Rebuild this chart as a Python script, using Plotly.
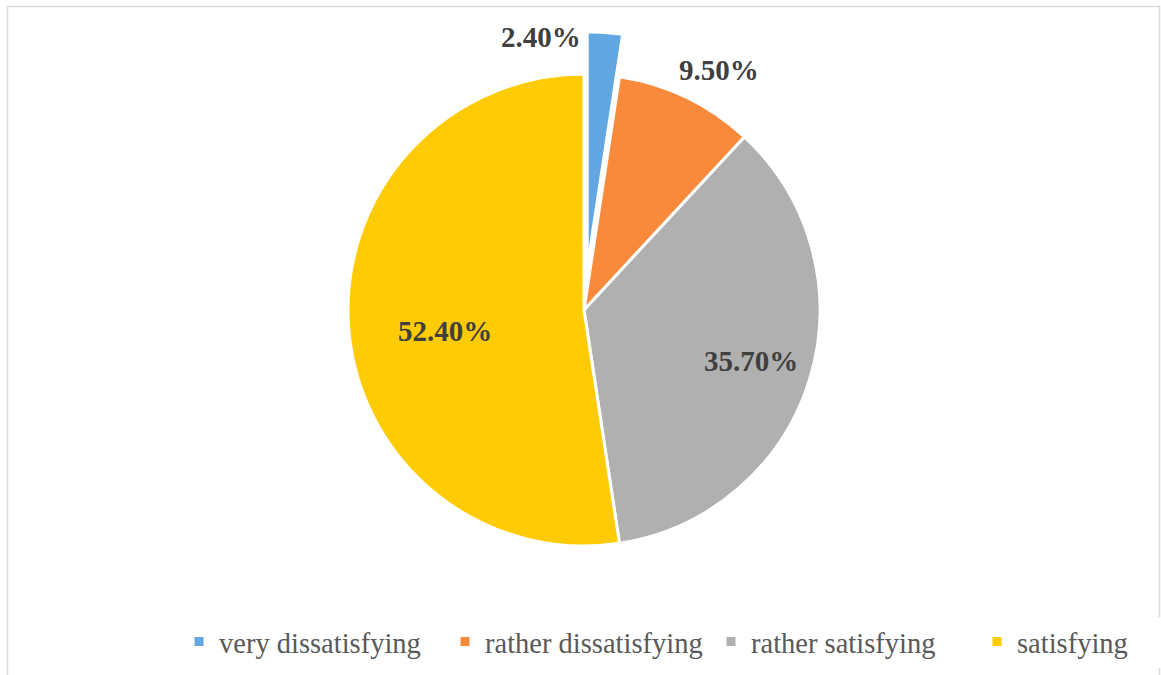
import math
import plotly.graph_objects as go

# Survey satisfaction shares (percent)
categories = ["very dissatisfying", "rather dissatisfying", "rather satisfying", "satisfying"]
shares = [2.4, 9.5, 35.7, 52.4]
slice_colors = ["#62A6E2", "#F98A3B", "#B0B0B0", "#FECB05"]
pulls = [0.18, 0, 0, 0]

# Label placement: radial distance (in radii) from the slice's own centre,
# horizontal anchor and a small pixel nudge (x right, y up)
label_radius = [1.0, 1.16, 0.74, 0.60]
label_xanchor = ["right", "center", "center", "center"]
label_shift = [(-22, -5), (16, -7), (0, 0), (2, -10)]

W, H = 1161, 675
CX, CY = 584, 310          # pie centre in pixels
R = 236                    # pie radius in pixels
max_pull = max(pulls)
box = 2 * R * (1 + max_pull)

fig = go.Figure(
    go.Pie(
        labels=categories,
        values=shares,
        textinfo="none",
        marker=dict(colors=slice_colors, line=dict(color="white", width=3)),
        pull=pulls,
        sort=False,
        direction="clockwise",
        rotation=0,
        hoverinfo="label+percent",
        domain=dict(
            x=[(CX - box / 2) / W, (CX + box / 2) / W],
            y=[1 - (CY + box / 2) / H, 1 - (CY - box / 2) / H],
        ),
    )
)

# Percentage labels placed at each slice's mid angle
total = sum(shares)
cum = 0.0
annotations = []
for v, p, f, xa, (dx, dy) in zip(shares, pulls, label_radius, label_xanchor, label_shift):
    mid = 2 * math.pi * (cum + v / 2) / total
    cum += v
    ox = CX + p * R * math.sin(mid)
    oy = CY - p * R * math.cos(mid)
    px = ox + f * R * math.sin(mid)
    py = oy - f * R * math.cos(mid)
    annotations.append(
        dict(
            x=px / W,
            y=1 - py / H,
            xref="paper",
            yref="paper",
            text=f"{v:.2f}%",
            showarrow=False,
            xanchor=xa,
            yanchor="middle",
            xshift=dx,
            yshift=dy,
            font=dict(family="Liberation Serif", size=29, color="#404040", weight="bold"),
        )
    )

fig.update_layout(
    width=W,
    height=H,
    margin=dict(l=0, r=0, t=0, b=0, autoexpand=False),
    paper_bgcolor="white",
    plot_bgcolor="white",
    showlegend=True,
    legend=dict(
        orientation="h",
        x=179 / W,
        xanchor="left",
        y=1 - 642 / H,
        yanchor="middle",
        entrywidth=221,
        entrywidthmode="pixels",
        font=dict(family="Liberation Serif", size=28.5, color="#595959"),
        traceorder="normal",
        itemclick=False,
    ),
    annotations=annotations,
    shapes=[
        dict(
            type="rect",
            xref="paper",
            yref="paper",
            x0=7.5 / W,
            x1=1159.5 / W,
            y0=-0.2,
            y1=1 - 6.5 / H,
            line=dict(color="#D9D9D9", width=1.5),
            fillcolor="rgba(0,0,0,0)",
            layer="below",
        )
    ],
)

fig.write_html("out.html")
